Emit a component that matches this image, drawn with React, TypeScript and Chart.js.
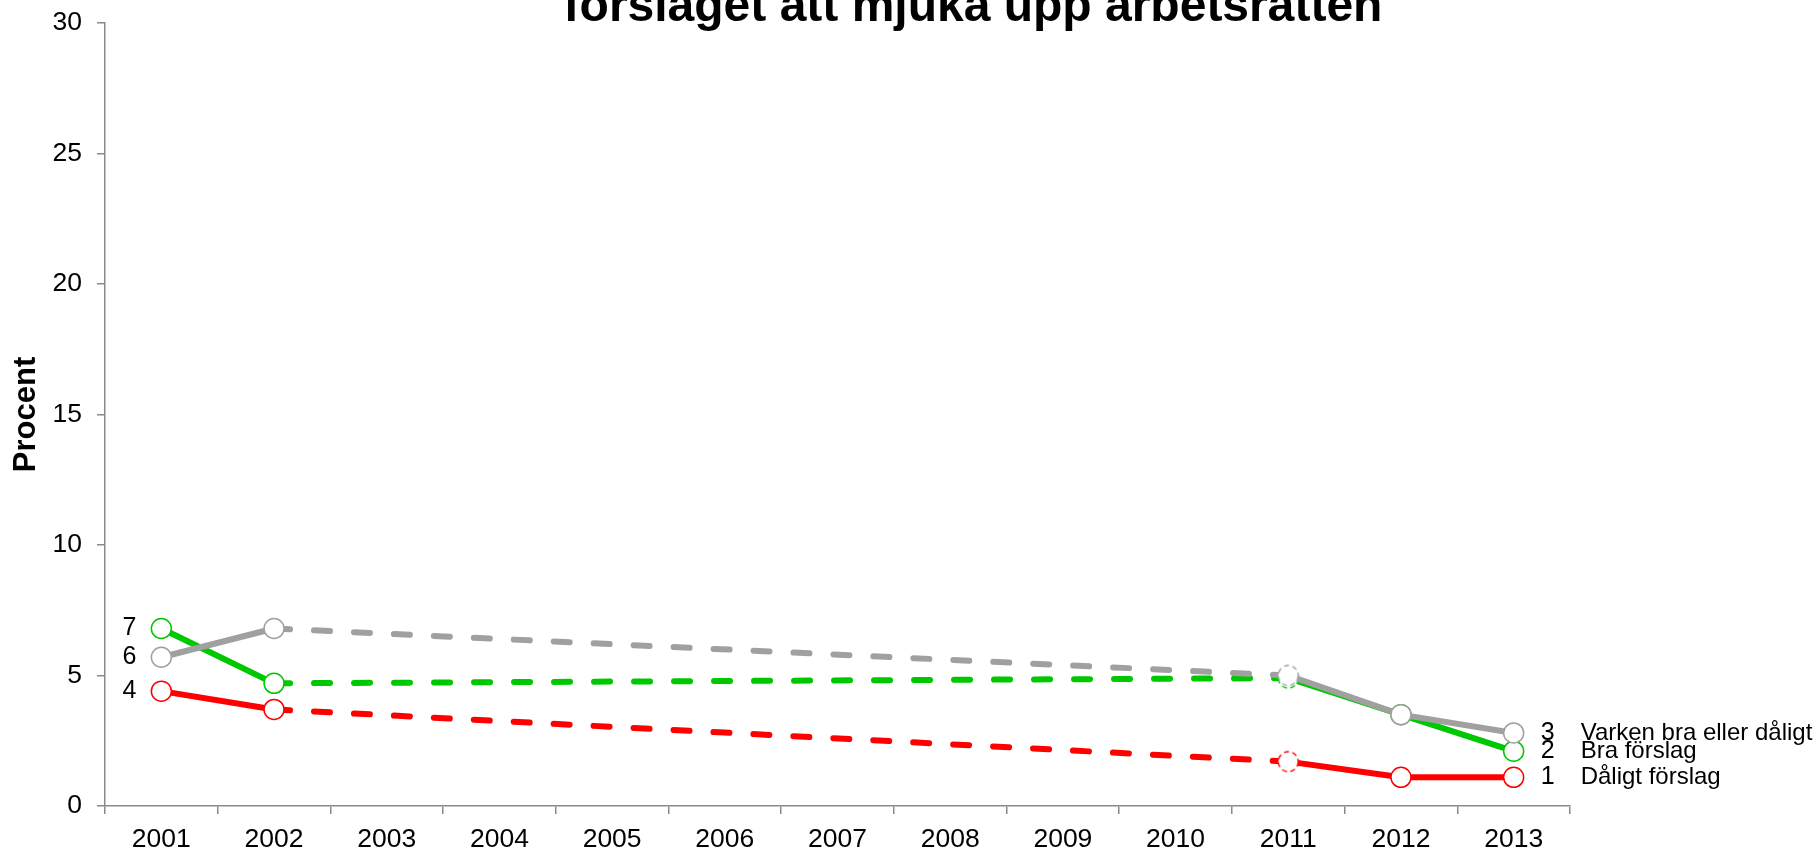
import React, { useEffect, useRef } from 'react';
import { Chart, registerables } from 'chart.js';

Chart.register(...registerables);

const years = ['2001', '2002', '2003', '2004', '2005', '2006', '2007', '2008', '2009', '2010', '2011', '2012', '2013'];
const daligtForslag = [4.4, 3.7, null, null, null, null, null, null, null, null, 1.7, 1.1, 1.1];
const braForslag = [6.8, 4.7, null, null, null, null, null, null, null, null, 4.9, 3.5, 2.1];
const varkenBraEllerDaligt = [5.7, 6.8, null, null, null, null, null, null, null, null, 5.0, 3.5, 2.8];
const seriesNames = ['Varken bra eller dåligt', 'Bra förslag', 'Dåligt förslag'];
const titleText = 'förslaget att mjuka upp arbetsrätten';
const yAxisTitle = 'Procent';
const yMin = 0;
const yMax = 30;
const yStep = 5;
const dashedYear = '2011';

const FONT = "'Liberation Sans', Arial, sans-serif";
const AXIS_COLOR = '#8a8a8a';
const COLORS = ['#a0a0a0', '#00c800', '#ff0000'];
const POINT_R = 10;

function dashedCircle(color: string) {
  const r = POINT_R;
  const lw = 1.5;
  const size = 26;
  const c = document.createElement('canvas');
  c.width = size;
  c.height = size;
  const g = c.getContext('2d')!;
  g.beginPath();
  g.arc(size / 2, size / 2, r, 0, Math.PI * 2);
  g.fillStyle = '#ffffff';
  g.fill();
  g.setLineDash([5, 3.5]);
  g.lineWidth = lw;
  g.strokeStyle = color;
  g.stroke();
  return c;
}

const labelPlugin = {
  id: 'labelPlugin',
  afterDatasetsDraw(chart: any) {
    const ctx = chart.ctx;
    ctx.save();
    ctx.fillStyle = '#000';
    ctx.textBaseline = 'middle';
    chart.data.datasets.forEach((ds: any, i: number) => {
      const meta = chart.getDatasetMeta(i);
      const first = meta.data[0];
      const last = meta.data[meta.data.length - 1];
      const v0 = ds.data[0];
      const vN = ds.data[ds.data.length - 1];
      ctx.font = `25px ${FONT}`;
      ctx.textAlign = 'right';
      ctx.fillText(String(Math.round(v0)), first.x - 25, first.y);
      ctx.textAlign = 'left';
      ctx.fillText(String(Math.round(vN)), last.x + 27, last.y);
      ctx.font = `24px ${FONT}`;
      ctx.fillText(ds.label, last.x + 67, last.y);
    });
    ctx.restore();
  },
  afterDraw(chart: any) {
    const ctx = chart.ctx;
    ctx.save();
    ctx.fillStyle = '#000';
    ctx.font = `bold 48px ${FONT}`;
    ctx.textAlign = 'center';
    ctx.textBaseline = 'alphabetic';
    ctx.fillText(titleText, 973, 21);
    ctx.restore();
  },
};

export default function App() {
  const ref = useRef<HTMLCanvasElement | null>(null);

  useEffect(() => {
    document.body.style.margin = '0';
    const dashIdx = years.indexOf(dashedYear);
    const seriesData = [varkenBraEllerDaligt, braForslag, daligtForslag];
    const datasets = seriesData.map((d, i) => {
      const img = dashedCircle(COLORS[i]);
      return {
        label: seriesNames[i],
        data: d,
        borderColor: COLORS[i],
        backgroundColor: '#ffffff',
        borderWidth: 6,
        borderCapStyle: 'round',
        borderJoinStyle: 'round',
        spanGaps: true,
        tension: 0,
        pointRadius: POINT_R,
        pointBorderWidth: 1.5,
        pointBackgroundColor: '#ffffff',
        pointBorderColor: COLORS[i],
        pointStyle: (c: any) => (c.dataIndex === dashIdx ? img : 'circle'),
        segment: {
          borderDash: (c: any) => (d[c.p0DataIndex] == null ? [16, 24] : undefined),
        },
      };
    });

    const chart = new Chart(ref.current!, {
      type: 'line',
      data: { labels: years, datasets: datasets as any },
      options: {
        animation: false,
        responsive: false,
        devicePixelRatio: 1,
        layout: { autoPadding: false, padding: { top: 23, right: 249, left: 0, bottom: 0 } },
        plugins: {
          legend: { display: false },
          tooltip: { enabled: false },
          title: { display: false },
        },
        scales: {
          x: {
            type: 'category',
            offset: true,
            grid: {
              offset: true,
              drawOnChartArea: false,
              drawTicks: true,
              tickLength: 8,
              color: AXIS_COLOR,
              lineWidth: 1.5,
            },
            border: { display: true, color: AXIS_COLOR, width: 1.5 },
            ticks: {
              color: '#000',
              font: { family: FONT, size: 26.5 },
              padding: 10,
              maxRotation: 0,
              autoSkip: false,
            },
            afterFit: (s: any) => {
              s.height = 45;
            },
          },
          y: {
            min: yMin,
            max: yMax,
            ticks: {
              stepSize: yStep,
              color: '#000',
              font: { family: FONT, size: 26.5 },
              padding: 15,
            },
            grid: {
              drawOnChartArea: false,
              drawTicks: true,
              tickLength: 8,
              color: AXIS_COLOR,
              lineWidth: 1.5,
            },
            border: { display: true, color: AXIS_COLOR, width: 1.5 },
            title: {
              display: true,
              text: yAxisTitle,
              color: '#000',
              font: { family: FONT, size: 31, weight: 'bold' },
              padding: { top: 8, bottom: 0 },
            },
            afterFit: (s: any) => {
              s.width = 105;
              s.paddingTop = 0;
              s.paddingBottom = 0;
            },
          },
        },
      },
      plugins: [labelPlugin],
    });
    return () => chart.destroy();
  }, []);

  return (
    <div style={{ width: 1819, height: 851 }}>
      <canvas ref={ref} width={1819} height={851} style={{ display: 'block', width: 1819, height: 851 }} />
    </div>
  );
}
